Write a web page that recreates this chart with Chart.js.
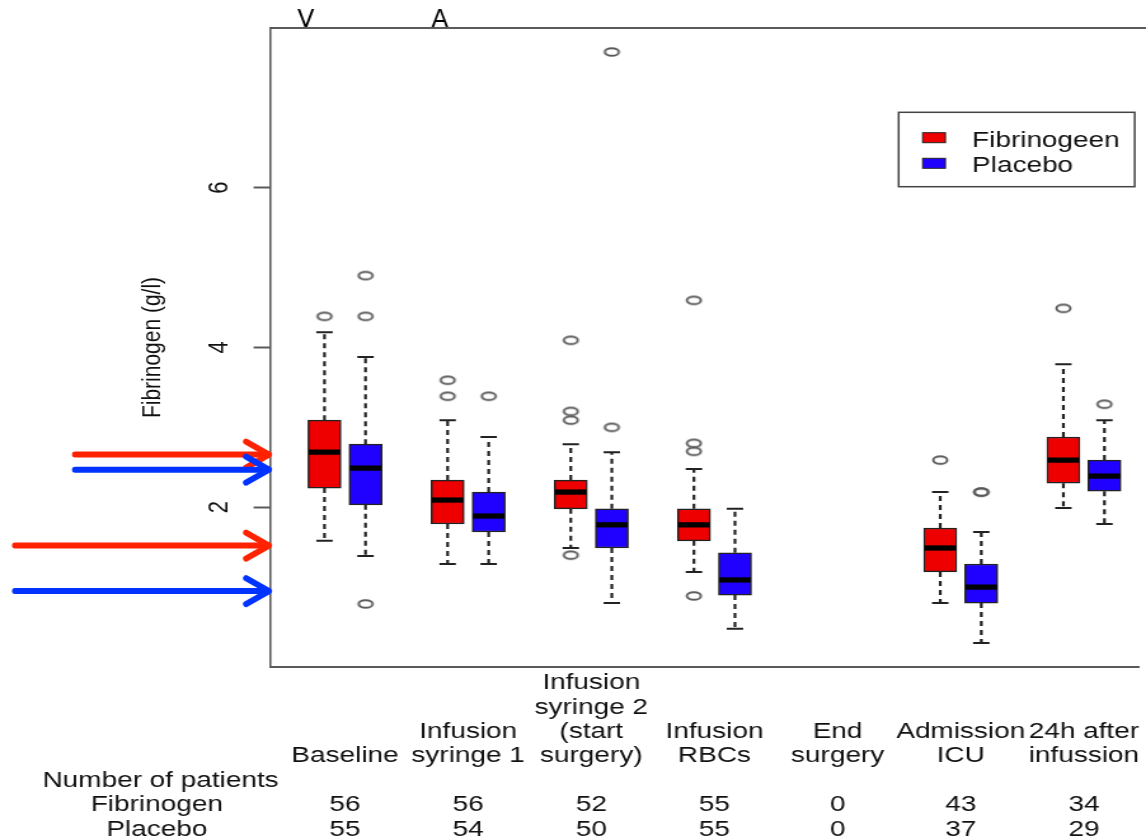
<!DOCTYPE html>
<html><head><meta charset="utf-8">
<script src="https://cdn.jsdelivr.net/npm/chart.js@4.4.1/dist/chart.umd.min.js"></script>
<style>
html,body{margin:0;padding:0;background:#fff;overflow:hidden;width:1146px;height:838px;}
#wrap{position:absolute;left:0;top:0;width:902px;height:838px;transform:scaleX(1.27051);transform-origin:0 0;}
canvas{display:block;}
</style></head><body>
<div id="wrap"><canvas id="c" width="902" height="838"></canvas></div>
<script>
// ---------- data ----------
const categories = [["Baseline"],["Infusion","syringe 1"],["Infusion","syringe 2","(start","surgery)"],["Infusion","RBCs"],["End","surgery"],["Admission","ICU"],["24h after","infussion"]];
const seriesNames = ["Fibrinogeen","Placebo"];
// [lower whisker, Q1, median, Q3, upper whisker]; null = no measurements
const fibrinogenStats = [[1.58,2.24,2.69,3.09,4.19],[1.29,1.79,2.09,2.34,3.09],[1.49,1.98,2.19,2.34,2.79],[1.19,1.58,1.78,1.98,2.48],null,[0.80,1.19,1.49,1.74,2.19],[1.99,2.30,2.59,2.88,3.79]];
const placeboStats = [[1.39,2.03,2.49,2.79,3.88],[1.29,1.69,1.89,2.19,2.88],[0.80,1.49,1.78,1.98,2.69],[0.48,0.90,1.09,1.43,1.98],null,[0.30,0.80,1.00,1.29,1.69],[1.79,2.20,2.39,2.59,3.09]];
const fibrinogenOutliers = [[4.39],[3.59,3.39],[4.09,3.20,3.09,1.40],[4.59,2.80,2.70,0.89],[],[2.59],[4.49]];
const placeboOutliers = [[4.90,4.39,0.79],[3.39],[7.70,3.00],[],[],[2.19,2.19],[3.29]];
const fibrinogenN = [56,56,52,55,0,43,34];
const placeboN = [55,54,50,55,0,37,29];
const tableRowLabels = ["Number of patients","Fibrinogen","Placebo"];
const yTicks = [2,4,6];
const yTitle = "Fibrinogen (g/l)";
const arrowValues = [2.66,2.47,1.52,0.95];
const arrowSeries = [0,1,0,1];
const topLetters = ["V","A"];

// ---------- styles ----------
const S = 1146/902;
const RED = '#ee0000', BLUE = '#2000ff', INK = '#111', AXIS = '#5a5a5a';
const ARROW = ['#ff2200','#0033ff'];
const FONT = '"Liberation Sans", Arial, sans-serif';
const LH = 24.4, TPAD = 4;
const XMIN = -0.312, XUNIT = 32.31; // px per position unit (canvas)

function pos(i, s){ return 3*i + 1 + s; }
const statsAll = [fibrinogenStats, placeboStats];
const outAll = [fibrinogenOutliers, placeboOutliers];
const fills = [RED, BLUE];

function ellipseMarker(){
  const c = document.createElement('canvas'); c.width = 16; c.height = 12;
  const g = c.getContext('2d'); g.strokeStyle = '#595959'; g.lineWidth = 1.9;
  g.beginPath(); g.ellipse(8,6,5.5,3.8,0,0,Math.PI*2); g.stroke(); return c;
}
const marker = ellipseMarker();

const datasets = [];
statsAll.forEach((st, s) => {
  datasets.push({type:'bar', label: seriesNames[s],
    data: st.map((b,i) => b ? {x: pos(i,s), y: [b[1], b[3]]} : null).filter(Boolean),
    backgroundColor: fills[s], borderColor: '#222', borderWidth: 1.5, borderSkipped: false,
    barThickness: 26, grouped: false, order: 2});
});
statsAll.forEach((st, s) => {
  datasets.push({type:'bar', label: 'median',
    data: st.map((b,i) => b ? {x: pos(i,s), y: [b[2]-0.029, b[2]+0.029]} : null).filter(Boolean),
    backgroundColor: '#000', borderWidth: 0, barThickness: 24, grouped: false, order: 1});
});
const whisk = [], caps = [], outs = [];
statsAll.forEach((st, s) => st.forEach((b, i) => {
  if (!b) return; const p = pos(i, s);
  whisk.push({x:p,y:b[3]},{x:p,y:b[4]},{x:p,y:null},{x:p,y:b[1]},{x:p,y:b[0]},{x:p,y:null});
  caps.push({x:p-0.2,y:b[4]},{x:p+0.2,y:b[4]},{x:p+0.2,y:null},{x:p-0.2,y:b[0]},{x:p+0.2,y:b[0]},{x:p+0.2,y:null});
}));
outAll.forEach((o, s) => o.forEach((vals, i) => vals.forEach(v => outs.push({x: pos(i,s), y: v}))));
datasets.push({type:'line', label:'whiskers', data: whisk, borderColor:'#222', borderWidth:2.2, borderDash:[5,4], pointRadius:0, spanGaps:false, tension:0, fill:false, order:3});
datasets.push({type:'line', label:'caps', data: caps, borderColor:'#222', borderWidth:2, pointRadius:0, spanGaps:false, tension:0, fill:false, order:3});
datasets.push({type:'scatter', label:'outliers', data: outs, pointStyle: marker, pointRadius: 5, order:0});

const tickLines = categories.map((c, i) => {
  const pad = Array(4 - c.length).fill('');
  return pad.concat(c, ['', String(fibrinogenN[i]), String(placeboN[i])]);
});

const decor = {
  id: 'decor',
  afterDraw(chart){
    const {ctx, chartArea: a, scales: {y}} = chart;
    ctx.save();
    // top frame line
    ctx.strokeStyle = AXIS; ctx.lineWidth = 2;
    ctx.beginPath(); ctx.moveTo(a.left - 0.8, a.top); ctx.lineTo(chart.width + 2, a.top); ctx.stroke();
    // legend
    ctx.strokeStyle = '#444'; ctx.lineWidth = 1.5;
    ctx.strokeRect(707.3, 112.3, 185.8, 74.4);
    ctx.font = '22px ' + FONT; ctx.textAlign = 'left'; ctx.textBaseline = 'alphabetic';
    seriesNames.forEach((n, k) => {
      const top = k === 0 ? 132.7 : 158.3;
      ctx.fillStyle = fills[k]; ctx.fillRect(726.2, top, 17.9, 10);
      ctx.strokeStyle = '#222'; ctx.lineWidth = 1; ctx.strokeRect(726.2, top, 17.9, 10);
      ctx.fillStyle = INK; ctx.fillText(n, 765.1, k === 0 ? 146.7 : 171.7);
    });
    // table row labels
    ctx.textAlign = 'center'; ctx.textBaseline = 'middle'; ctx.fillStyle = INK;
    const cx = [126.4, 123.4, 123.4];
    tableRowLabels.forEach((t, k) => {
      ctx.fillText(t, cx[k], a.bottom + TPAD + LH/2 + LH*(4+k));
    });
    // overlays (not stretched)
    ctx.scale(1/S, 1);
    const starts = [75, 75, 15, 15];
    arrowValues.forEach((v, k) => {
      const py = y.getPixelForValue(v), tip = 270;
      ctx.strokeStyle = ARROW[arrowSeries[k]]; ctx.lineWidth = 6; ctx.lineCap = 'round'; ctx.lineJoin = 'round';
      ctx.beginPath(); ctx.moveTo(starts[k], py); ctx.lineTo(tip - 2, py); ctx.stroke();
      ctx.beginPath(); ctx.moveTo(tip - 24, py - 13); ctx.lineTo(tip - 1, py); ctx.lineTo(tip - 24, py + 13); ctx.stroke();
    });
    ctx.fillStyle = '#000'; ctx.font = '25px "DejaVu Sans", sans-serif'; ctx.textAlign = 'center'; ctx.textBaseline = 'alphabetic';
    const lx = [306, 440];
    topLetters.forEach((t, k) => ctx.fillText(t, lx[k], 26.7));
    ctx.restore();
  }
};

new Chart(document.getElementById('c'), {
  type: 'bar',
  data: { datasets },
  options: {
    responsive: false, animation: false, events: [],
    layout: { padding: { top: 28, left: 0, right: 0, bottom: 0 } },
    plugins: { legend: { display: false }, tooltip: { enabled: false } },
    scales: {
      x: {
        type: 'linear', offset: false, bounds: 'data',
        afterDataLimits: sc => { sc.min = XMIN; sc.max = XMIN + sc.width / XUNIT; },
        grid: { display: false, drawTicks: false },
        border: { display: true, color: AXIS, width: 2 },
        afterBuildTicks: sc => { sc.ticks = categories.map((c, i) => ({ value: 3*i + 1.5 })); },
        afterFit: sc => { sc.height = 838 - 667; sc.paddingLeft = 0; sc.paddingRight = 0; },
        ticks: { autoSkip: false, maxRotation: 0, minRotation: 0, padding: TPAD, color: INK,
          font: { family: FONT, size: 22, lineHeight: LH/22 },
          callback: (v, i) => tickLines[i] }
      },
      y: {
        type: 'linear', min: 0, max: 8,
        afterBuildTicks: sc => { sc.ticks = yTicks.map(v => ({ value: v })); },
        afterFit: sc => { sc.width = 213; sc.paddingTop = 0; sc.paddingBottom = 0; },
        grid: { drawOnChartArea: false, drawTicks: true, tickLength: 13.4, tickColor: AXIS, tickWidth: 2 },
        border: { display: true, color: AXIS, width: 1.6 },
        ticks: { minRotation: 90, maxRotation: 90, crossAlign: 'center', padding: 20.3, color: INK,
          font: { family: FONT, size: 22 } },
        title: { display: true, text: yTitle, color: INK, font: { family: FONT, size: 21 }, padding: { top: 108, bottom: 0 } }
      }
    }
  },
  plugins: [decor]
});
</script>
</body></html>
